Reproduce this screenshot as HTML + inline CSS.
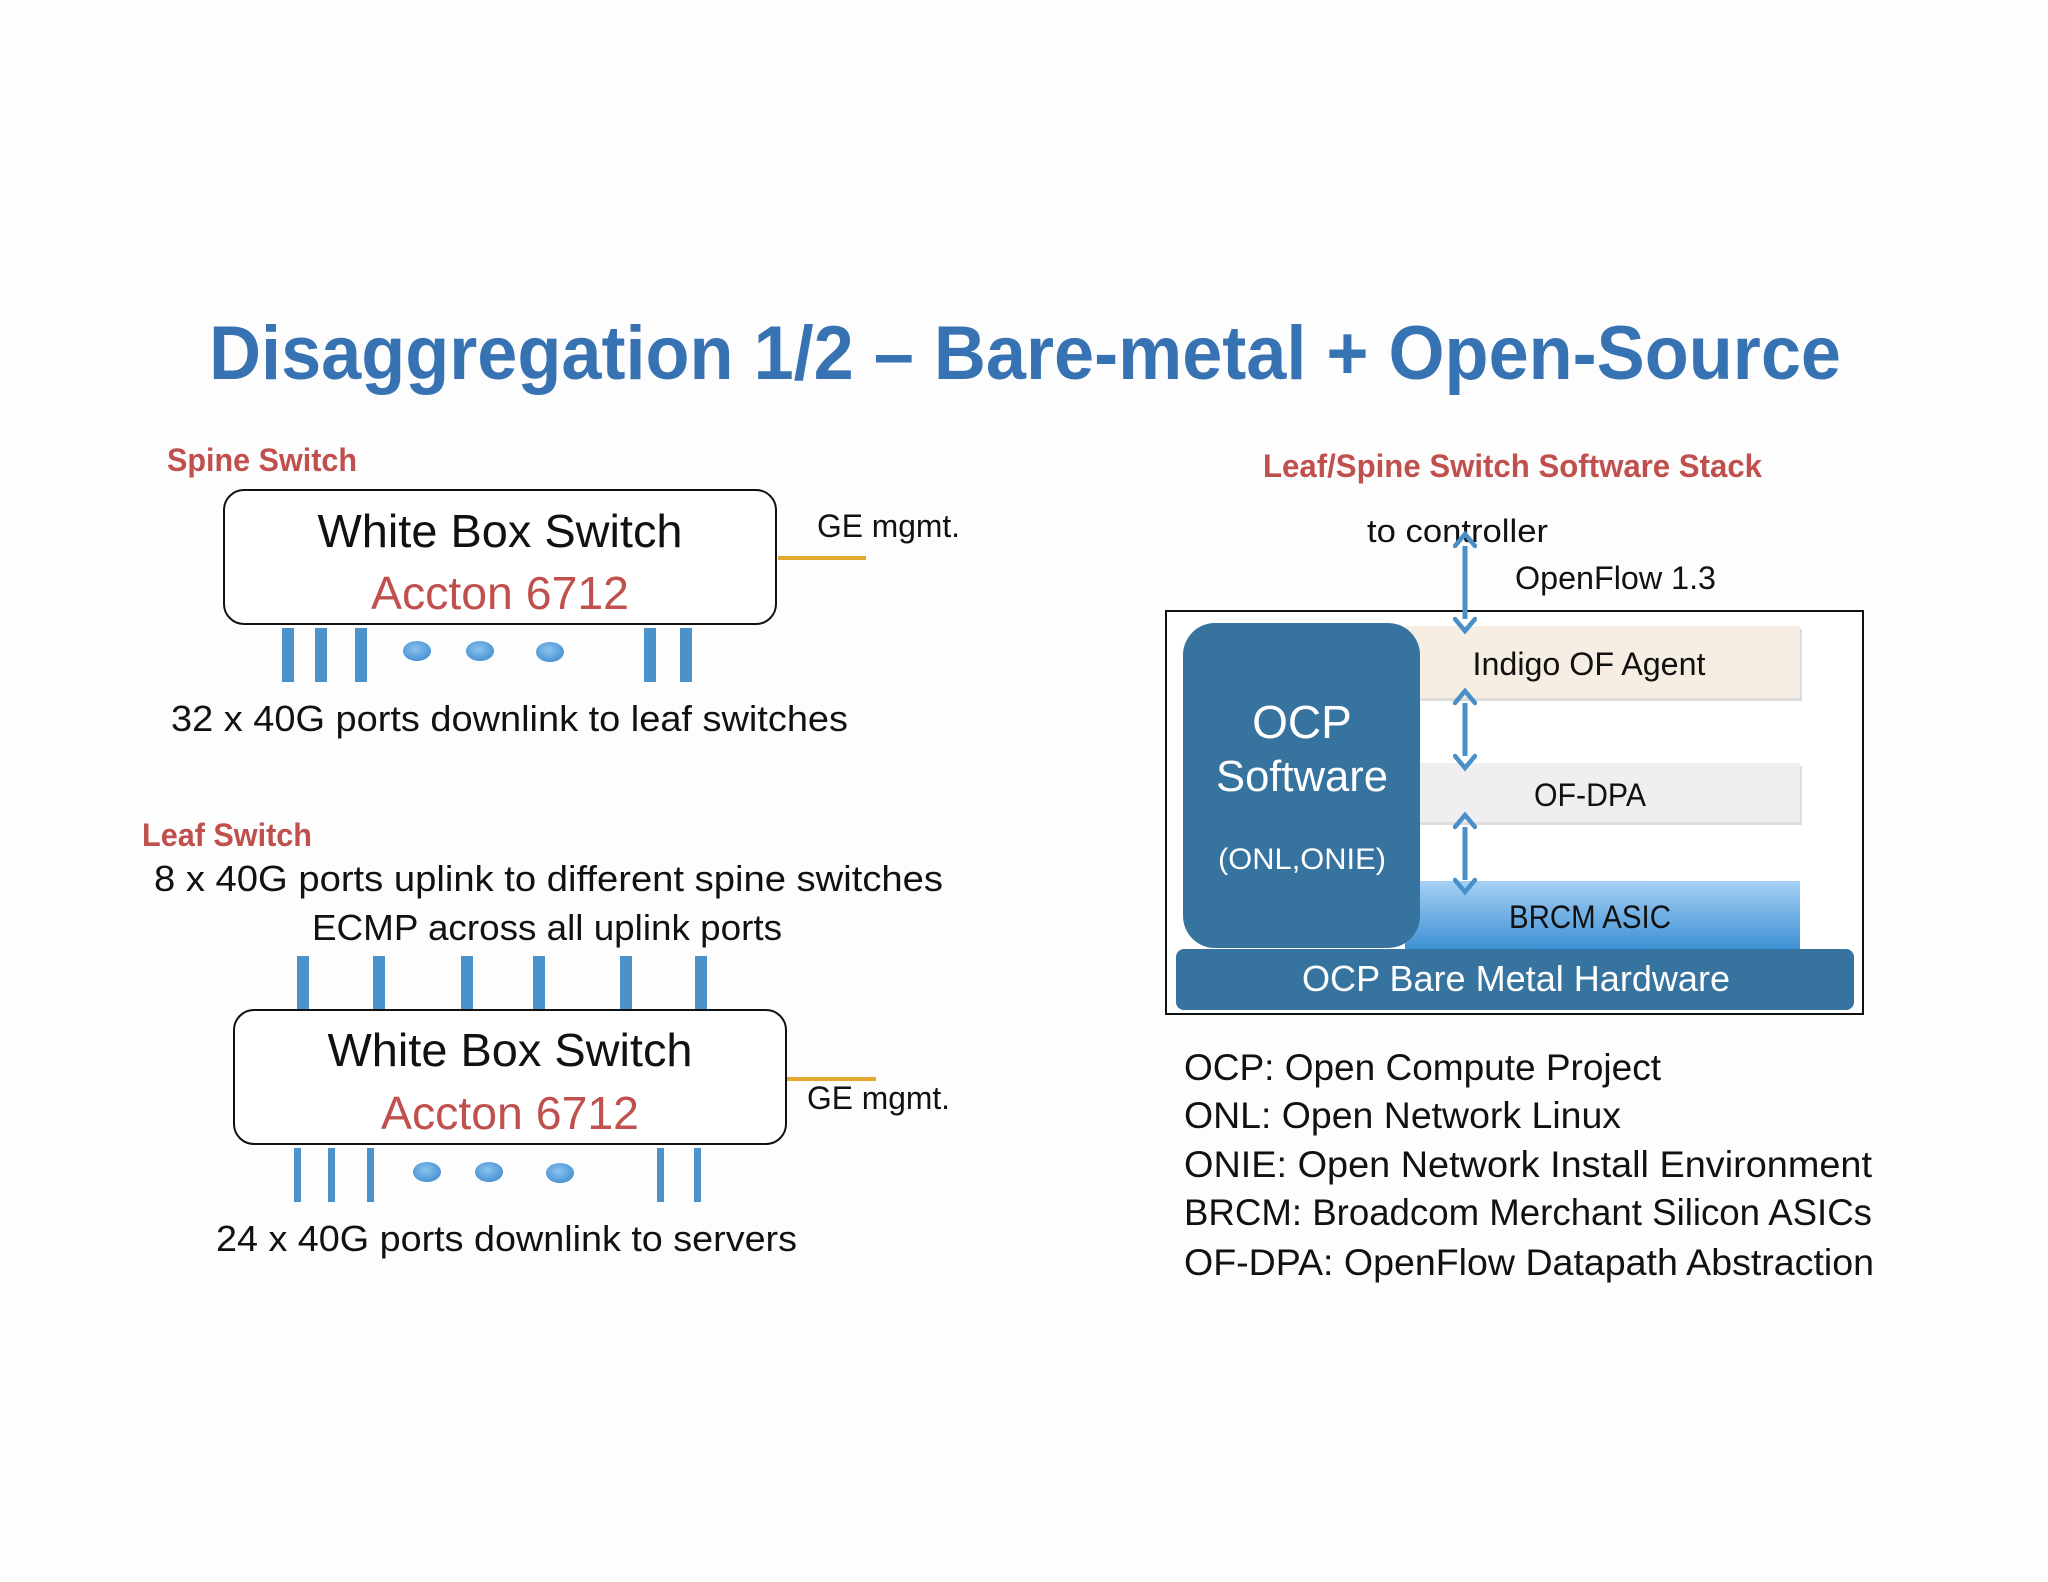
<!DOCTYPE html>
<html><head><meta charset="utf-8"><style>
html,body{margin:0;padding:0;background:#fdfdfd;}
svg{display:block;}
text{font-family:"Liberation Sans",sans-serif;}
</style></head><body>
<svg width="2048" height="1582" viewBox="0 0 2048 1582" xmlns="http://www.w3.org/2000/svg">
<defs>
<linearGradient id="brcm" x1="0" y1="0" x2="0" y2="1"><stop offset="0" stop-color="#a6d0f4"/><stop offset="1" stop-color="#3b8fd4"/></linearGradient>
<radialGradient id="dot" cx="0.45" cy="0.4" r="0.7"><stop offset="0" stop-color="#8cc3ee"/><stop offset="1" stop-color="#3d8bd0"/></radialGradient>
<marker id="ah" viewBox="0 0 24 24" refX="4" refY="12" markerWidth="24" markerHeight="24" orient="auto-start-reverse" markerUnits="userSpaceOnUse"><path d="M4,2 L16,12 L4,22" fill="none" stroke="#4a90c8" stroke-width="4.5" stroke-linecap="round"/></marker>
</defs>
<rect width="2048" height="1582" fill="#fdfdfd"/>
<text x="209" y="379" font-size="76" font-weight="bold" fill="#3773b3" textLength="1632" lengthAdjust="spacingAndGlyphs">Disaggregation 1/2 – Bare-metal + Open-Source</text>

<!-- Spine -->
<text x="167" y="471" font-size="32" font-weight="bold" fill="#c0504d" textLength="190" lengthAdjust="spacingAndGlyphs">Spine Switch</text>
<rect x="224" y="490" width="552" height="134" rx="20" fill="#fff" stroke="#111" stroke-width="2"/>
<text x="500" y="547" font-size="46" fill="#111" text-anchor="middle" textLength="365" lengthAdjust="spacingAndGlyphs">White Box Switch</text>
<text x="500" y="609" font-size="46" fill="#c0504d" text-anchor="middle" textLength="258" lengthAdjust="spacingAndGlyphs">Accton 6712</text>
<line x1="778" y1="558" x2="866" y2="558" stroke="#e3aa33" stroke-width="4"/>
<text x="817" y="537" font-size="32" fill="#111" textLength="143" lengthAdjust="spacingAndGlyphs">GE mgmt.</text>
<g fill="#4a92c9">
<rect x="282" y="628" width="12" height="54"/><rect x="315" y="628" width="12" height="54"/><rect x="355" y="628" width="12" height="54"/>
<rect x="644" y="628" width="12" height="54"/><rect x="680" y="628" width="12" height="54"/>
</g>
<ellipse cx="417" cy="651" rx="14" ry="10" fill="url(#dot)"/><ellipse cx="480" cy="651" rx="14" ry="10" fill="url(#dot)"/><ellipse cx="550" cy="652" rx="14" ry="10" fill="url(#dot)"/>
<text x="171" y="731" font-size="36" fill="#111" textLength="677" lengthAdjust="spacingAndGlyphs">32 x 40G ports downlink to leaf switches</text>

<!-- Leaf -->
<text x="142" y="846" font-size="32" font-weight="bold" fill="#c0504d" textLength="170" lengthAdjust="spacingAndGlyphs">Leaf Switch</text>
<text x="154" y="891" font-size="36" fill="#111" textLength="789" lengthAdjust="spacingAndGlyphs">8 x 40G ports uplink to different spine switches</text>
<text x="312" y="940" font-size="36" fill="#111" textLength="470" lengthAdjust="spacingAndGlyphs">ECMP across all uplink ports</text>
<g fill="#4a92c9">
<rect x="297" y="956" width="12" height="54"/><rect x="373" y="956" width="12" height="54"/><rect x="461" y="956" width="12" height="54"/>
<rect x="533" y="956" width="12" height="54"/><rect x="620" y="956" width="12" height="54"/><rect x="695" y="956" width="12" height="54"/>
</g>
<rect x="234" y="1010" width="552" height="134" rx="20" fill="#fff" stroke="#111" stroke-width="2"/>
<text x="510" y="1066" font-size="46" fill="#111" text-anchor="middle" textLength="365" lengthAdjust="spacingAndGlyphs">White Box Switch</text>
<text x="510" y="1129" font-size="46" fill="#c0504d" text-anchor="middle" textLength="258" lengthAdjust="spacingAndGlyphs">Accton 6712</text>
<line x1="787" y1="1079" x2="876" y2="1079" stroke="#e3aa33" stroke-width="4"/>
<text x="807" y="1109" font-size="32" fill="#111" textLength="143" lengthAdjust="spacingAndGlyphs">GE mgmt.</text>
<g fill="#4a92c9">
<rect x="294" y="1148" width="7" height="54"/><rect x="328" y="1148" width="7" height="54"/><rect x="367" y="1148" width="7" height="54"/>
<rect x="657" y="1148" width="7" height="54"/><rect x="694" y="1148" width="7" height="54"/>
</g>
<ellipse cx="427" cy="1172" rx="14" ry="10" fill="url(#dot)"/><ellipse cx="489" cy="1172" rx="14" ry="10" fill="url(#dot)"/><ellipse cx="560" cy="1173" rx="14" ry="10" fill="url(#dot)"/>
<text x="216" y="1251" font-size="36" fill="#111" textLength="581" lengthAdjust="spacingAndGlyphs">24 x 40G ports downlink to servers</text>

<!-- Right stack -->
<text x="1263" y="477" font-size="32" font-weight="bold" fill="#c0504d" textLength="499" lengthAdjust="spacingAndGlyphs">Leaf/Spine Switch Software Stack</text>
<text x="1367" y="542" font-size="32" fill="#111" textLength="181" lengthAdjust="spacingAndGlyphs">to controller</text>
<text x="1515" y="589" font-size="32" fill="#111" textLength="201" lengthAdjust="spacingAndGlyphs">OpenFlow 1.3</text>
<rect x="1166" y="611" width="697" height="403" fill="#fff" stroke="#111" stroke-width="2"/>
<rect x="1407" y="629" width="395" height="72" fill="#ddd"/>
<rect x="1405" y="626" width="395" height="72" fill="#f6eee2"/>
<rect x="1407" y="766" width="395" height="59" fill="#ddd"/>
<rect x="1405" y="763" width="395" height="59" fill="#efeef1"/>
<rect x="1405" y="881" width="395" height="70" fill="url(#brcm)"/>
<rect x="1183" y="623" width="237" height="325" rx="32" fill="#37739f"/>
<rect x="1176" y="949" width="678" height="61" rx="8" fill="#37739f"/>
<text x="1589" y="675" font-size="32" fill="#111" text-anchor="middle" textLength="233" lengthAdjust="spacingAndGlyphs">Indigo OF Agent</text>
<text x="1590" y="806" font-size="32" fill="#111" text-anchor="middle" textLength="112" lengthAdjust="spacingAndGlyphs">OF-DPA</text>
<text x="1590" y="928" font-size="32" fill="#111" text-anchor="middle" textLength="162" lengthAdjust="spacingAndGlyphs">BRCM ASIC</text>
<text x="1516" y="991" font-size="36" fill="#fff" text-anchor="middle" textLength="428" lengthAdjust="spacingAndGlyphs">OCP Bare Metal Hardware</text>
<text x="1302" y="738" font-size="46" fill="#fff" text-anchor="middle">OCP</text>
<text x="1302" y="791" font-size="44" fill="#fff" text-anchor="middle" textLength="172" lengthAdjust="spacingAndGlyphs">Software</text>
<text x="1302" y="869" font-size="30" fill="#fff" text-anchor="middle" textLength="168" lengthAdjust="spacingAndGlyphs">(ONL,ONIE)</text>
<g stroke="#4a90c8" stroke-width="5" marker-start="url(#ah)" marker-end="url(#ah)">
<line x1="1465" y1="546" x2="1465" y2="619"/>
<line x1="1465" y1="703" x2="1465" y2="756"/>
<line x1="1465" y1="827" x2="1465" y2="880"/>
</g>
<g font-size="37" fill="#111">
<text x="1184" y="1080" textLength="477" lengthAdjust="spacingAndGlyphs">OCP: Open Compute Project</text>
<text x="1184" y="1128" textLength="437" lengthAdjust="spacingAndGlyphs">ONL: Open Network Linux</text>
<text x="1184" y="1177" textLength="688" lengthAdjust="spacingAndGlyphs">ONIE: Open Network Install Environment</text>
<text x="1184" y="1225" textLength="688" lengthAdjust="spacingAndGlyphs">BRCM: Broadcom Merchant Silicon ASICs</text>
<text x="1184" y="1275" textLength="690" lengthAdjust="spacingAndGlyphs">OF-DPA: OpenFlow Datapath Abstraction</text>
</g>
</svg>
</body></html>
